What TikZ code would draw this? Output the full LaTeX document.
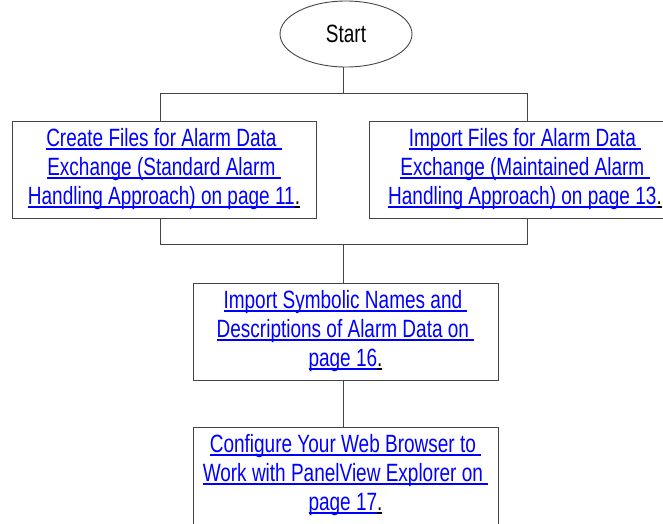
\documentclass[tikz,border=0pt]{standalone}
\usepackage{fontspec}
\setmainfont[FakeStretch=0.76]{Liberation Sans}
\usetikzlibrary{shapes.geometric}
\definecolor{linegray}{HTML}{444444}
\definecolor{linkblue}{HTML}{0000FF}
\newcommand{\ulfixed}[1]{\setbox0\hbox{#1}\rlap{\vrule height -1pt depth 3pt width \wd0}\box0}
\newcommand{\lnk}[1]{{\color{linkblue}\ulfixed{#1}}}
\newcommand{\pdot}{{\color{black}\ulfixed{.}}}
\begin{document}
\begin{tikzpicture}[x=1pt,y=-1pt,
  line/.style={draw=linegray,line width=0.9pt},
  stepbox/.style={draw=linegray,line width=0.9pt,rectangle,minimum height=97pt,
    align=center,inner sep=0pt,font=\fontsize{25}{29}\selectfont},
  startnode/.style={draw=linegray,line width=0.9pt,ellipse,minimum width=132pt,
    minimum height=66pt,inner sep=0pt,font=\fontsize{25}{28}\selectfont}]
\useasboundingbox (0,0) rectangle (663,523);
\clip (0,0) rectangle (663,523);
\node[startnode] (start) at (346,34) {Start};
\node[stepbox,minimum width=304pt] (b1) at (164,169.5)
  {\lnk{Create Files for Alarm Data\ }\\
   \lnk{Exchange (Standard Alarm\ }\\
   \lnk{Handling Approach) on page 11}\pdot};
\node[stepbox,minimum width=312pt] (b2) at (525,169.5)
  {\lnk{Import Files for Alarm Data\ }\\
   \lnk{Exchange (Maintained Alarm\ }\\
   \lnk{Handling Approach) on page 13}\pdot};
\node[stepbox,minimum width=305pt] (b3) at (345.5,331.5)
  {\lnk{Import Symbolic Names and\ }\\
   \lnk{Descriptions of Alarm Data on\ }\\
   \lnk{page 16}\pdot};
\node[stepbox,minimum width=305pt] (b4) at (345.5,475.5)
  {\lnk{Configure Your Web Browser to\ }\\
   \lnk{Work with PanelView Explorer on\ }\\
   \lnk{page 17}\pdot};
\coordinate (t1) at (160,93);
\coordinate (t2) at (527,93);
\coordinate (tm) at (343,93);
\coordinate (m1) at (160,244);
\coordinate (m2) at (527,244);
\coordinate (mm) at (343,244);
\draw[line] (start.south -| tm) -- (tm);
\draw[line] (b1.north -| t1) -- (t1) -- (t2) -- (b2.north -| t2);
\draw[line] (b1.south -| m1) -- (m1) -- (m2) -- (b2.south -| m2);
\draw[line] (mm) -- (b3.north -| mm);
\draw[line] (b3.south -| mm) -- (b4.north -| mm);
\end{tikzpicture}
\end{document}
